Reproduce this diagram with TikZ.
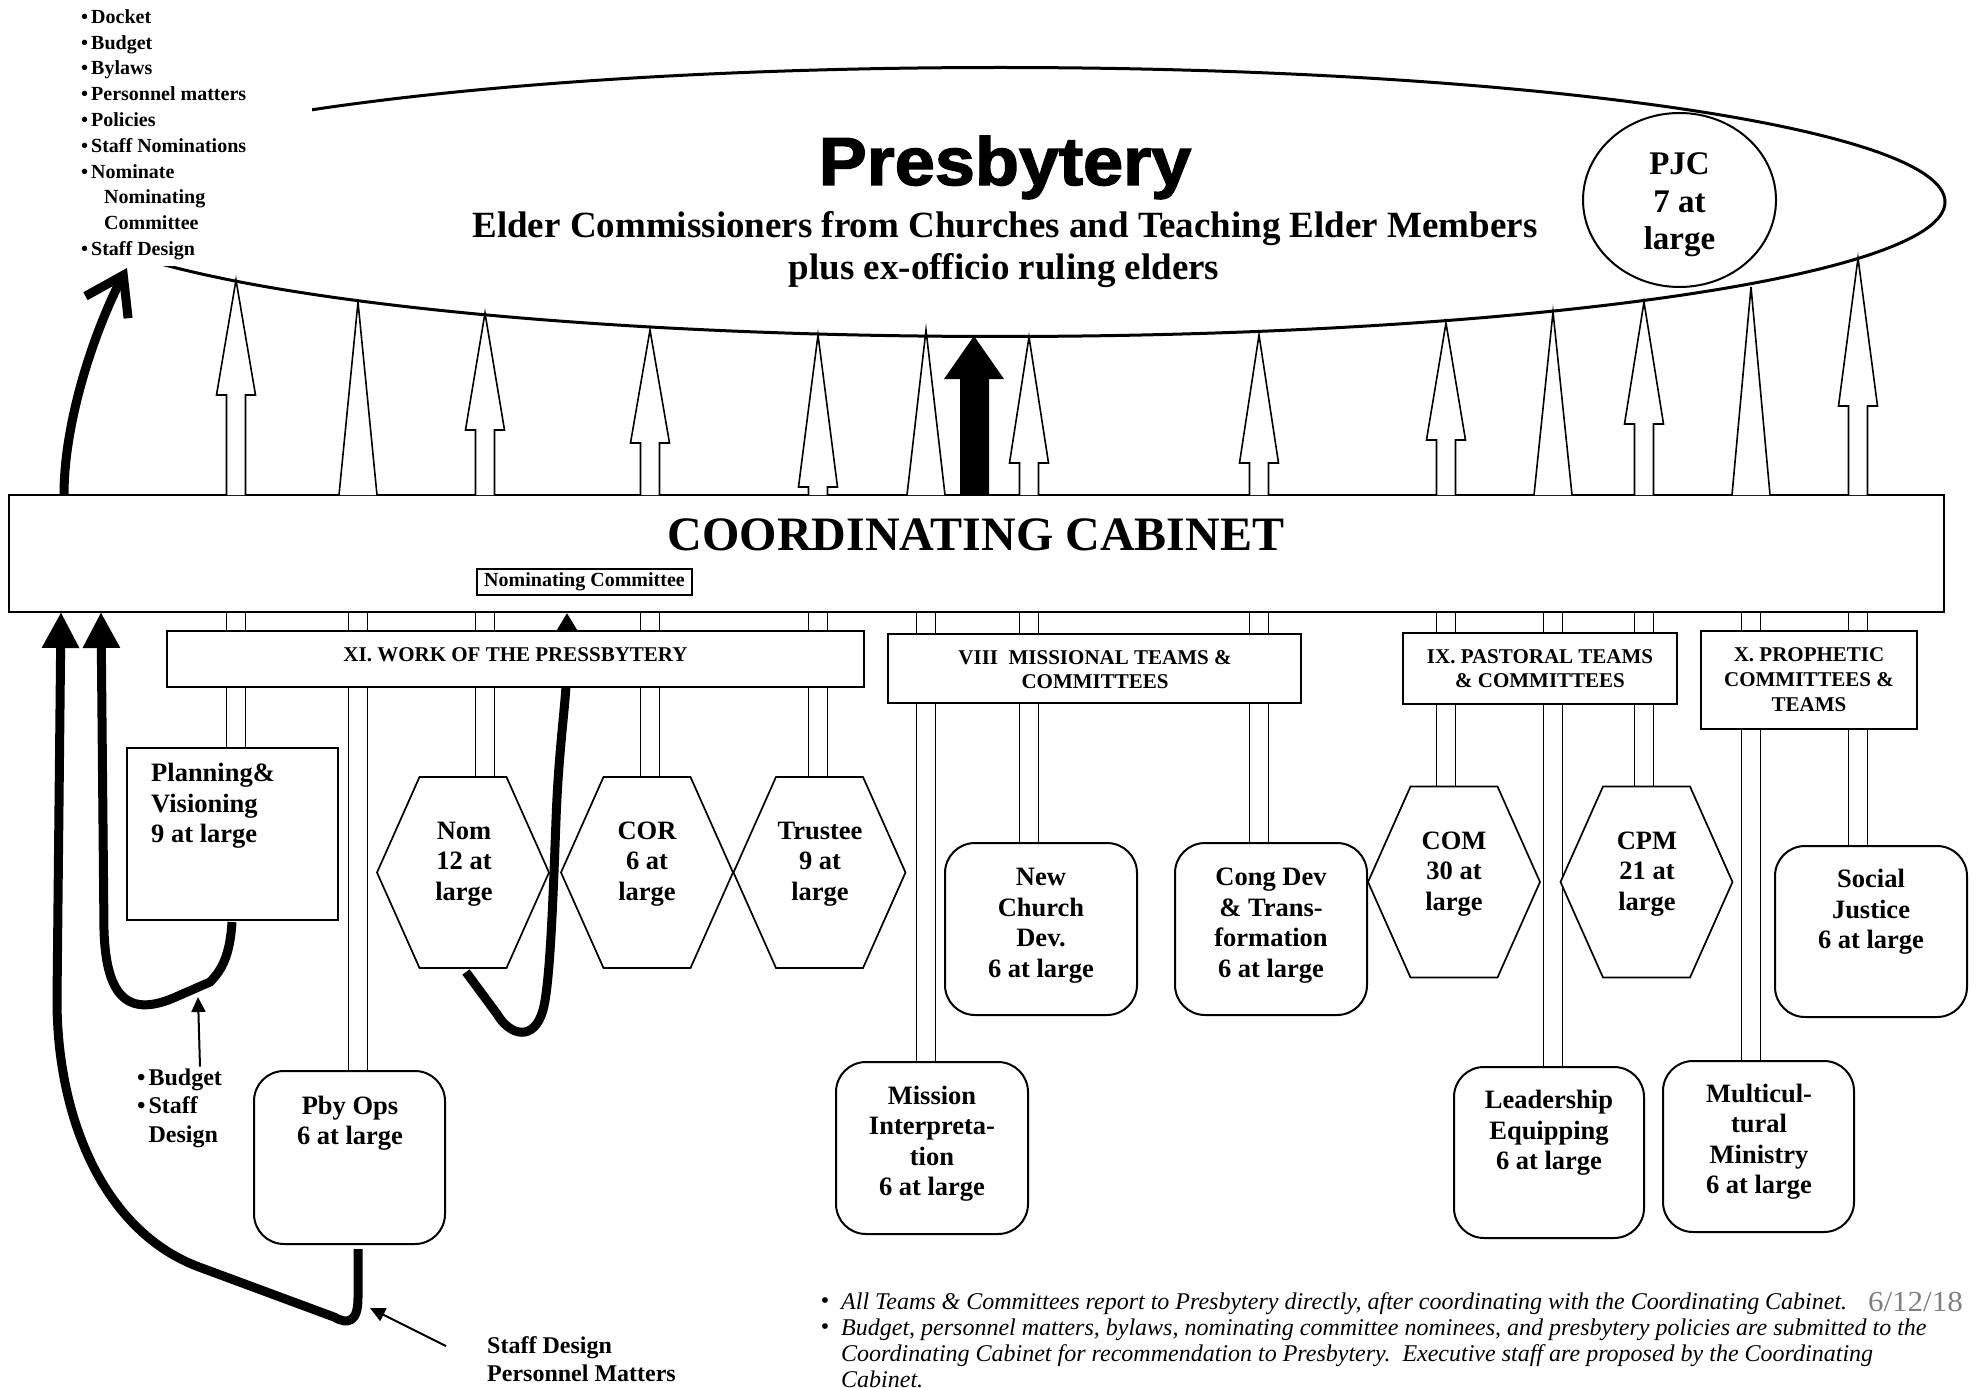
\documentclass[tikz,border=0pt]{standalone}
\usepackage{fontspec}
\usepackage{graphicx}
\setmainfont{Liberation Serif}
\newfontfamily\titlefont{Liberation Sans}[BoldFeatures={FakeBold=2}]
\usetikzlibrary{shapes.geometric,arrows.meta,calc}
\pgfdeclarelayer{bg}
\pgfsetlayers{bg,main}
\newcommand\fsz[2]{\fontsize{#1}{#2}\selectfont}
% box node from corner coordinates
\newcommand\mkbox[6]{\node[#6, minimum width={#4-#2}, minimum height={#5-#3}] (#1) at ({(#2+#4)/2},{(#3+#5)/2}) {};}
% hexagon node
\newcommand\mkhex[3]{%
  \draw[hexline] (#2-43.5,#3-95.5) -- (#2+43.5,#3-95.5) -- (#2+86,#3) -- (#2+43.5,#3+95.5) -- (#2-43.5,#3+95.5) -- (#2-86,#3) -- cycle;
  \node[minimum width=172pt, minimum height=191pt, inner sep=0pt, outer sep=0pt] (#1) at (#2,#3) {};}
% up arrows from cabinet to presbytery
\newcommand\mkup[3]{\draw[arrline] (#1-9.5,495) -- (#1-9.5,#3) -- (#1-19.5,#3) -- (#1,#2) -- (#1+19.5,#3) -- (#1+9.5,#3) -- (#1+9.5,495);}
\newcommand\mklong[2]{\draw[arrline] (#1-19,495) -- (#1,#2) -- (#1+19,495);}
% stems below the cabinet
\newcommand\mkstem[2]{\draw[stemline] let \p1=(cab.south), \p2=(#2.north) in (#1pt-9.5pt,\y1) rectangle (#1pt+9.5pt,\y2);}
\begin{document}
\begin{tikzpicture}[x=1pt,y=-1pt,
  boxline/.style={draw, line width=2pt, fill=white, inner sep=0pt, outer sep=0pt},
  rbox/.style={boxline, rounded corners=30pt},
  hexline/.style={draw, line width=1.7pt, fill=white, line join=miter},
  stemline/.style={draw, line width=1.6pt, fill=white},
  arrline/.style={draw, line width=1.6pt, fill=white, line join=miter},
  fatline/.style={line width=9pt},
  thinarrow/.style={line width=2pt, -{Triangle[length=15pt,width=14pt]}},
  boxtext/.style={font=\bfseries\fsz{26.5}{30.5}, align=center, inner sep=0pt},
  grouptext/.style={font=\bfseries\fsz{21}{25}, anchor=base, inner sep=0pt},
  notetext/.style={font=\bfseries\fsz{24}{28.5}, align=left, inner sep=0pt, anchor=north west}
]
\useasboundingbox (0,0) rectangle (1976,1388);
\begin{pgfonlayer}{bg}
  \fill[white] (0,0) rectangle (1976,1388);
\end{pgfonlayer}

% Presbytery ellipse
\node[ellipse, draw, line width=3pt, minimum width=1890pt, minimum height=269pt, inner sep=0pt] (presby) at (1000,202) {};
% white text box covering the left end
\fill[white] (0,0) rectangle (312,266);
\node[anchor=north west, inner sep=0pt, align=left, font=\bfseries\fsz{20}{25.8}] (list) at (81,9.3)
 {•\hspace{3pt}Docket\\ •\hspace{3pt}Budget\\ •\hspace{3pt}Bylaws\\ •\hspace{3pt}Personnel matters\\ •\hspace{3pt}Policies\\ •\hspace{3pt}Staff Nominations\\ •\hspace{3pt}Nominate\\ \hspace*{23pt}Nominating\\ \hspace*{23pt}Committee\\ •\hspace{3pt}Staff Design};

\node[anchor=base, font=\titlefont\bfseries\fsz{68}{78}] (ptitle) at (1005,185) {\scalebox{1.06}[1]{Presbytery}};
\node[anchor=base, font=\bfseries\fsz{37}{42}] (psub1) at (1005,238) {Elder Commissioners from Churches and Teaching Elder Members};
\node[anchor=base, font=\bfseries\fsz{37}{42}] (psub2) at (1004,280) {plus ex-officio ruling elders};

% PJC
\node[ellipse, draw, line width=2pt, minimum width=193pt, minimum height=174pt, inner sep=0pt, fill=white] (pjc) at (1679.5,200) {};
\node[font=\bfseries\fsz{33}{37.5}, align=center, inner sep=0pt] (pjctext) at (1679.5,205) {PJC\\7 at\\large};

% Coordinating cabinet
\node[boxline, minimum width=1935pt, minimum height=117pt] (cab) at (976.5,553.5) {};
\node[anchor=base, font=\bfseries\fsz{48}{56}] (cabtext) at (976,550) {COORDINATING CABINET};
\node[draw, line width=1.8pt, fill=white, minimum width=215pt, minimum height=26pt, inner sep=0pt, font=\bfseries\fsz{20}{24}] (nomc) at (584.5,582) {Nominating Committee};

% up arrows
\mkup{236}{280}{395}
\mklong{358}{302}
\mkup{485}{313}{430}
\mkup{650}{330}{443}
\mkup{818}{335}{487}
\mklong{926}{330}
\mkup{1029}{337}{463}
\mkup{1259}{335}{463}
\mkup{1446}{323}{440}
\mklong{1553}{312}
\mkup{1644}{302}{424}
\mklong{1751}{287}
\mkup{1858}{258}{406}
% black arrow
\fill (960,495) -- (960,379) -- (944,379) -- (974,336) -- (1004,379) -- (989,379) -- (989,495) -- cycle;

% hexagons
\mkhex{nom}{463}{872.5}
\mkhex{cor}{647}{872.5}
\mkhex{trustee}{819.5}{872.5}
\mkhex{com}{1454}{882}
\mkhex{cpm}{1646.5}{882}
\node[boxtext] at (464,864) {Nom\\12 at\\large};
\node[boxtext] at (647,864) {COR\\6 at\\large};
\node[boxtext] at (820,864) {Trustee\\9 at\\large};
\node[boxtext] at (1454,874) {COM\\30 at\\large};
\node[boxtext] at (1647,874) {CPM\\21 at\\large};

% boxes
\mkbox{plan}{127}{748}{338}{920}{boxline}
\mkbox{pbyops}{254}{1071}{445}{1244}{rbox}
\mkbox{mission}{836}{1062}{1028}{1234}{rbox}
\mkbox{newch}{945}{843}{1137}{1015}{rbox}
\mkbox{congdev}{1175}{843}{1367}{1015}{rbox}
\mkbox{leader}{1454}{1067}{1644}{1238}{rbox}
\mkbox{multi}{1663}{1061}{1854}{1232}{rbox}
\mkbox{social}{1775}{846}{1967}{1017}{rbox}
\node[boxtext, align=left, anchor=west] at (151,806) {Planning\&\\Visioning\\9 at large};
\node[boxtext] at (350,1123) {Pby Ops\\6 at large};
\node[boxtext] at (932,1143.5) {Mission\\Interpreta-\\tion\\6 at large};
\node[boxtext] at (1041,925.5) {New\\Church\\Dev.\\6 at large};
\node[boxtext] at (1271,925.5) {Cong Dev\\\& Trans-\\formation\hspace*{22pt}\\6 at large};
\node[boxtext] at (1549,1133) {Leadership\\Equipping\\6 at large};
\node[boxtext] at (1759,1141.5) {Multicul-\\tural\\Ministry\\6 at large};
\node[boxtext] at (1871,912) {Social\\Justice\\6 at large};

% Nominating committee loop (passes behind the XI box)
\coordinate (nomout) at (466,972);
\coordinate (nomin) at (567,613);
\draw[fatline, -{Triangle[length=17pt,width=19pt]}] (nomout) -- (497,1014) .. controls (510,1036) and (534,1042) .. (543,1010) .. controls (550,985) and (553,900) .. (556,820) .. controls (559,740) and (567,700) .. (567,660) -- (nomin);

% group boxes
\mkbox{xi}{167}{631}{864}{687}{boxline}
\mkbox{viii}{888}{634}{1301}{703}{boxline}
\mkbox{ix}{1403}{633}{1677}{704}{boxline}
\mkbox{xp}{1701}{631}{1917}{729}{boxline}
\node[grouptext] at (515.5,661) {XI. WORK OF THE PRESSBYTERY};
\node[grouptext] at (1095,664) {VIII\ \ MISSIONAL TEAMS \&};
\node[grouptext] at (1095,688) {COMMITTEES};
\node[grouptext] at (1540,663) {IX. PASTORAL TEAMS};
\node[grouptext] at (1540,687) {\& COMMITTEES};
\node[grouptext] at (1809,661) {X. PROPHETIC};
\node[grouptext] at (1809,686) {COMMITTEES \&};
\node[grouptext] at (1809,711) {TEAMS};

% stems (behind)
\begin{pgfonlayer}{bg}
\mkstem{236}{plan}
\mkstem{358}{pbyops}
\mkstem{485}{nom}
\mkstem{650}{cor}
\mkstem{818}{trustee}
\mkstem{926}{mission}
\mkstem{1029}{newch}
\mkstem{1259}{congdev}
\mkstem{1446}{com}
\mkstem{1553}{leader}
\mkstem{1644}{cpm}
\mkstem{1751}{multi}
\mkstem{1858}{social}
\end{pgfonlayer}

% side notes
\node[notetext] (note1) at (137,1068.6) {•\hspace{3pt}Budget\\ •\hspace{3pt}Staff\\ \hspace*{11.4pt}Design};
\node[notetext, font=\bfseries\fsz{24}{28}] (note2) at (487,1336.5) {Staff Design\\Personnel Matters};

% thick curves
\coordinate (listtip) at (127,268);
\coordinate (cabA) at (64,495);
\coordinate (planout) at (232,922);
\coordinate (cabB) at (101,612);
\coordinate (pbyout) at (358,1249);
\coordinate (cabC) at (61,612);
\draw[fatline, -{Straight Barb[length=36pt,width=48pt]}] (cabA) .. controls (64,420) and (95,330) .. (listtip);
\draw[fatline, -{Triangle[length=36pt,width=35pt]}] (planout) .. controls (230,955) and (222,970) .. (210,982) -- (178,996) .. controls (130,1018) and (106,1000) .. (104,930) -- (cabB);
\draw[fatline, -{Triangle[length=36pt,width=35pt]}] (pbyout) -- (358,1298) .. controls (358,1322) and (348,1325) .. (334,1317) -- (199,1267) .. controls (105,1232) and (57,1120) .. (57,1000) -- (cabC);

% thin arrows
\coordinate (t1) at (198,997);
\coordinate (t2) at (370,1308);
\draw[thinarrow] (note1.north -| 200,0) ++(0,-2) -- (t1);
\draw[thinarrow] (446,1346) -- (t2);

% footer
\node[anchor=north west, inner sep=0pt, align=left, font=\itshape\fsz{24}{26}] (foot) at (841,1292)
 {All Teams \& Committees report to Presbytery directly, after coordinating with the Coordinating Cabinet.\\
  Budget, personnel matters, bylaws, nominating committee nominees, and presbytery policies are submitted to the\\
  Coordinating Cabinet for recommendation to Presbytery.\ \ Executive staff are proposed by the Coordinating\\
  Cabinet.};
\node[anchor=base, font=\fsz{24}{26}] at (825,1308.4) {•};
\node[anchor=base, font=\fsz{24}{26}] at (825,1334.4) {•};
\node[anchor=base east, font=\fsz{29}{32}, text=black!50, inner sep=0pt] (date) at (1963,1311) {\scalebox{1.07}[1]{6/12/18}};
\end{tikzpicture}
\end{document}
